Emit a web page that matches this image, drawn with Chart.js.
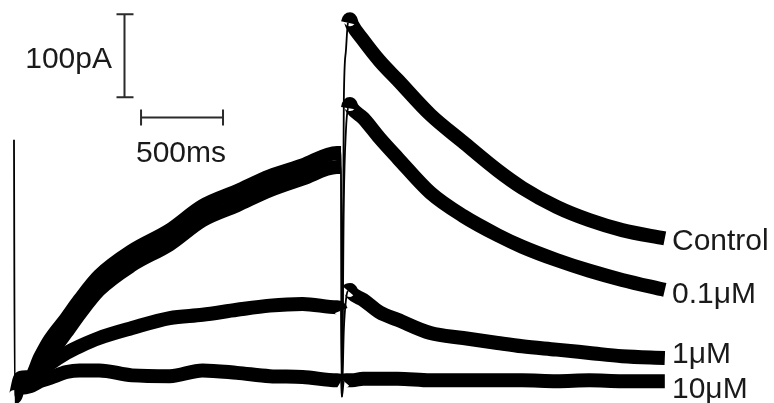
<!DOCTYPE html>
<html>
<head>
<meta charset="utf-8">
<script src="https://cdn.jsdelivr.net/npm/chart.js@4.4.1/dist/chart.umd.min.js"></script>
<style>
  html, body { margin: 0; padding: 0; background: #fff; overflow: hidden; }
</style>
</head>
<body>
<canvas id="traces" width="774" height="403"></canvas>
<script>
// Sample times (ms) shared by all four current recordings; the test pulse steps at 2000 ms.
const timeMs = [0, 5, 40, 100, 160, 220, 320, 400, 520, 720, 950, 1150, 1360, 1560, 1760,
                1970, 1995, 2000, 2012, 2025, 2037, 2050, 2062, 2130, 2230, 2340, 2540,
                2740, 2950, 3100, 3310, 3510, 3710, 3970];

// Membrane current (pA) for each condition.
const controlPA = [292, -18, 5, 6, 30, 51, 77, 99, 128, 158, 183, 212, 230, 248, 261,
                   276, 276, -17, 340, 400, 433, 437, 431, 412, 387, 364, 322,
                   289, 255, 234, 211, 195, 183, 173];
const dose01PA  = [null, 2, 2, 1, 22, 34, 60, 82, 111, 141, 166, 195, 213, 231, 245,
                   259, 259, -17, 219, 304, 330, 335, 330, 318, 294, 270, 228,
                   200, 177, 163, 147, 134, 123, 111];
const dose1PA   = [null, -2, -1, -1, 12, 22, 35, 43, 53, 65, 77, 81, 87, 92, 94,
                   90, 86, -17, 63, 99, 110, 111, 107, 99, 84, 75, 59,
                   53, 47, 43, 39, 35, 31, 29];
const dose10PA  = [null, -7, -7, -5, 1, 5, 12, 14, 14, 8, 7, 14, 11, 7, 6,
                   2, 1, -18, 1, 2, 2, 2, 2, 4, 4, 4, 2,
                   2, 2, 2, 1, 2, 1, 1];

const traceNames = ['Control', '0.1\u03bcM', '1\u03bcM', '10\u03bcM'];
const traceValues = [controlPA, dose01PA, dose1PA, dose10PA];

// Calibration bars.
const barCurrentPA = 100;
const barTimeMs = 500;

// Screen calibration of the recording window.
const MS_PER_PX = 6.1;
const PA_PER_PX = 1.205;
const W = 774, H = 403;
const ORIGIN_X = 14, BASELINE_Y = 382;

const BAND = 14;   // apparent width of the noisy trace
const THIN = 1.8;  // width of fast transients

const datasets = traceValues.map((vals, i) => ({
  label: traceNames[i],
  data: timeMs.map((t, k) => ({ x: t, y: vals[k] })),
  borderColor: '#000',
  borderWidth: BAND,
  pointRadius: 0,
  cubicInterpolationMode: 'monotone',
  borderJoinStyle: 'round',
  borderCapStyle: 'butt',
  spanGaps: false,
  // fast transients show up as a thin line, the noisy plateaus as a thick band
  segment: {
    borderWidth: ctx => {
      const dx = Math.abs(ctx.p1.x - ctx.p0.x);
      const dy = Math.abs(ctx.p1.y - ctx.p0.y);
      return dy > 4 * dx ? THIN : BAND;
    }
  }
}));

const FONT = '30px "Liberation Sans", Arial, sans-serif';

const annotations = {
  id: 'annotations',
  afterDatasetsDraw(chart) {
    const { ctx, scales: { x, y } } = chart;
    ctx.save();
    ctx.strokeStyle = '#2b2b2b';
    ctx.lineWidth = 2;
    ctx.lineCap = 'butt';

    // vertical current bar
    const vx = Math.round(x.getPixelForValue(671)) + 0.5;
    const vTop = y.getPixelForValue(343 + barCurrentPA);
    const vBot = y.getPixelForValue(343);
    ctx.beginPath();
    ctx.moveTo(vx, vTop); ctx.lineTo(vx, vBot);
    ctx.moveTo(vx - 8, vTop); ctx.lineTo(vx + 9, vTop);
    ctx.moveTo(vx - 8, vBot); ctx.lineTo(vx + 9, vBot);
    ctx.stroke();

    // horizontal time bar
    const hy = Math.round(y.getPixelForValue(319)) + 0.5;
    const hL = x.getPixelForValue(775);
    const hR = x.getPixelForValue(775 + barTimeMs);
    ctx.beginPath();
    ctx.moveTo(hL, hy); ctx.lineTo(hR, hy);
    ctx.moveTo(hL, hy - 8); ctx.lineTo(hL, hy + 8);
    ctx.moveTo(hR, hy - 8); ctx.lineTo(hR, hy + 8);
    ctx.stroke();

    ctx.fillStyle = '#1a1a1a';
    ctx.font = FONT;
    ctx.textBaseline = 'alphabetic';
    ctx.textAlign = 'right';
    ctx.fillText(barCurrentPA + 'pA', 112, 68);
    ctx.textAlign = 'left';
    ctx.fillText(barTimeMs + 'ms', 136, 162);

    const labelBaselines = [250, 303, 363, 398];
    traceNames.forEach((name, i) => ctx.fillText(name, 672, labelBaselines[i]));
    ctx.restore();
  }
};

new Chart(document.getElementById('traces'), {
  type: 'line',
  data: { datasets },
  options: {
    responsive: false,
    devicePixelRatio: 1,
    animation: false,
    layout: { padding: 0 },
    plugins: { legend: { display: false }, tooltip: { enabled: false } },
    scales: {
      x: {
        type: 'linear', display: false,
        min: -ORIGIN_X * MS_PER_PX,
        max: (W - ORIGIN_X) * MS_PER_PX
      },
      y: {
        type: 'linear', display: false,
        min: -(H - BASELINE_Y) * PA_PER_PX,
        max: BASELINE_Y * PA_PER_PX
      }
    }
  },
  plugins: [annotations]
});
</script>
</body>
</html>
